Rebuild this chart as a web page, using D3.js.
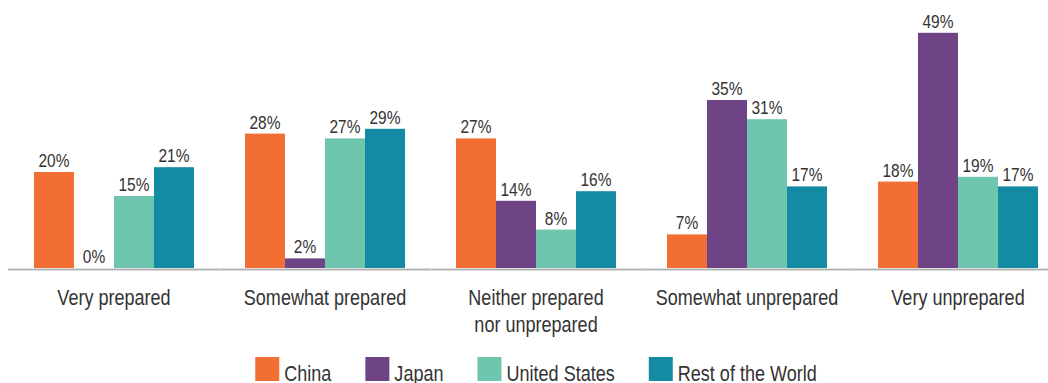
<!DOCTYPE html>
<html>
<head>
<meta charset="utf-8">
<script src="https://cdn.jsdelivr.net/npm/d3@7/dist/d3.min.js"></script>
<style>
  html, body { margin: 0; padding: 0; background: #fff; }
  svg { display: block; }
  text { font-family: "Liberation Sans", Arial, sans-serif; fill: #333; }
</style>
</head>
<body>
<svg id="chart" width="1048" height="383"></svg>
<script>
const categories = [["Very prepared"], ["Somewhat prepared"], ["Neither prepared", "nor unprepared"], ["Somewhat unprepared"], ["Very unprepared"]];
const series = ["China", "Japan", "United States", "Rest of the World"];
const colors = ["#F26F33", "#6E4487", "#6DC6AD", "#128BA3"];
const china = [20, 28, 27, 7, 18];
const japan = [0, 2, 14, 35, 49];
const unitedStates = [15, 27, 8, 31, 19];
const restOfWorld = [21, 29, 16, 17, 17];
const values = [china, japan, unitedStates, restOfWorld];

const NARROW = 0.82;
const svg = d3.select("#chart");
const catKeys = categories.map(c => c.join(" "));

const x0 = d3.scaleBand().domain(catKeys).range([8.5, 1063.5])
  .paddingInner(51 / 211).paddingOuter(25.5 / 211);
const x1 = d3.scaleBand().domain(series).range([0, x0.bandwidth()]);
const y = d3.scaleLinear().domain([0, 50]).range([268, 28]);

function ntext(parent, x, yy, size, str, anchor, sx) {
  return parent.append("text")
    .attr("transform", `translate(${x},${yy}) scale(${sx || NARROW},1)`)
    .attr("text-anchor", anchor || "middle")
    .attr("font-size", size)
    .text(str);
}

// axis baseline
svg.append("line").attr("x1", 8).attr("x2", 1048).attr("y1", 269.5).attr("y2", 269.5)
  .attr("stroke", "#b3b3b3").attr("stroke-width", 2);
catKeys.slice(1).forEach(k => {
  const bx = Math.round(x0(k) - x0.step() * x0.paddingInner() / 2) + 0.5;
  svg.append("line").attr("x1", bx).attr("x2", bx).attr("y1", 268.5).attr("y2", 270.5)
    .attr("stroke", "#dcdcdc").attr("stroke-width", 1);
});

const groups = svg.selectAll("g.grp").data(catKeys).join("g")
  .attr("class", "grp").attr("transform", d => `translate(${x0(d)},0)`);

groups.each(function (cat, ci) {
  const g = d3.select(this);
  series.forEach((s, si) => {
    const v = values[si][ci];
    g.append("rect")
      .attr("x", x1(s)).attr("width", x1.bandwidth())
      .attr("y", y(v)).attr("height", y(0) - y(v))
      .attr("fill", colors[si]);
    ntext(g, x1(s) + x1.bandwidth() / 2, y(v) - 5, 18, v + "%", "middle", 0.86);
  });
});

// category labels
categories.forEach((lines, ci) => {
  const cxm = x0(catKeys[ci]) + x0.bandwidth() / 2;
  lines.forEach((ln, li) => ntext(svg, cxm, 305 + li * 27, 22, ln));
});

// legend
const legend = svg.append("g");
const sq = 24, gapText = 5, gapItem = 34;
let cx = 0;
series.forEach((s, i) => {
  const g = legend.append("g");
  g.append("rect").attr("x", 0).attr("y", 357).attr("width", sq).attr("height", sq).attr("fill", colors[i]);
  const t = ntext(g, sq + gapText, 381, 22, s, "start");
  const w = sq + gapText + t.node().getComputedTextLength() * NARROW;
  g.attr("transform", `translate(${cx},0)`);
  cx += w + gapItem;
});
const total = cx - gapItem;
const center = (x0.range()[0] + x0.range()[1]) / 2;
legend.attr("transform", `translate(${center - total / 2},0)`);
</script>
</body>
</html>
